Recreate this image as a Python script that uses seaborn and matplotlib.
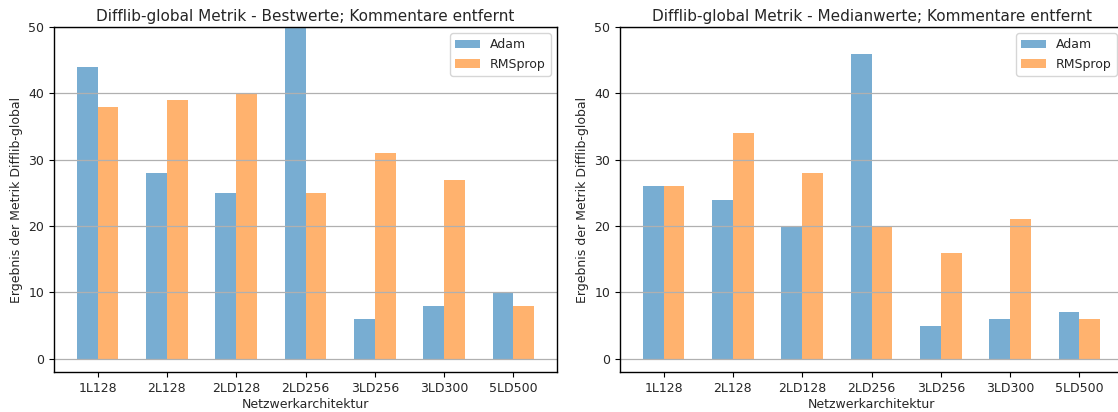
import matplotlib
matplotlib.use("Agg")
import matplotlib.pyplot as plt
import seaborn as sns
import pandas as pd

categories = ["1L128", "2L128", "2LD128", "2LD256", "3LD256", "3LD300", "5LD500"]
best_adam = [44, 28, 25, 50, 6, 8, 10]
best_rmsprop = [38, 39, 40, 25, 31, 27, 8]
median_adam = [26, 24, 20, 46, 5, 6, 7]
median_rmsprop = [26, 34, 28, 20, 16, 21, 6]
optimizers = ["Adam", "RMSprop"]
titles = ["Difflib-global Metrik - Bestwerte; Kommentare entfernt",
          "Difflib-global Metrik - Medianwerte; Kommentare entfernt"]

sns.set_style("ticks")
plt.rcParams['font.family'] = ['DejaVu Sans']

fig = plt.figure(figsize=(11.18, 4.12), dpi=100)
ax1 = fig.add_axes([54/1118, 1-372/412, 503/1118, 345/412])
ax2 = fig.add_axes([620/1118, 1-372/412, 503/1118, 345/412])

def make_df(a, r):
    return pd.DataFrame({
        "arch": categories * 2,
        "value": list(a) + list(r),
        "opt": ["Adam"] * len(a) + ["RMSprop"] * len(r),
    })

palette = {"Adam": "#1f77b4", "RMSprop": "#ff7f0e"}
for ax, (a, r), title in zip([ax1, ax2], [(best_adam, best_rmsprop), (median_adam, median_rmsprop)], titles):
    df = make_df(a, r)
    sns.barplot(data=df, x="arch", y="value", hue="opt", hue_order=optimizers,
                order=categories, palette=palette, alpha=0.6, width=0.6, gap=0,
                saturation=1, ax=ax, errorbar=None, linewidth=0)
    ax.set_ylim(-2, 50)
    ax.set_xlim(-0.63, 6.63)
    ax.set_yticks([0, 10, 20, 30, 40, 50])
    ax.yaxis.grid(True, color="#b0b0b0", linewidth=0.9)
    ax.xaxis.grid(False)
    ax.set_axisbelow(False)
    ax.set_title(title, fontsize=11, pad=4)
    ax.set_xlabel("Netzwerkarchitektur", fontsize=9, labelpad=2)
    ax.set_ylabel("Ergebnis der Metrik Difflib-global", fontsize=9)
    ax.tick_params(labelsize=9, length=3.5, width=0.8, color="black")
    for s in ax.spines.values():
        s.set_visible(True)
        s.set_color("black")
        s.set_linewidth(1)
        s.set_zorder(3)
    leg = ax.legend(loc="upper right", fontsize=9, frameon=True, title=None)
    leg.get_frame().set_edgecolor("#cccccc")
    leg.set_zorder(5)

fig.savefig("out.png", dpi=100)
